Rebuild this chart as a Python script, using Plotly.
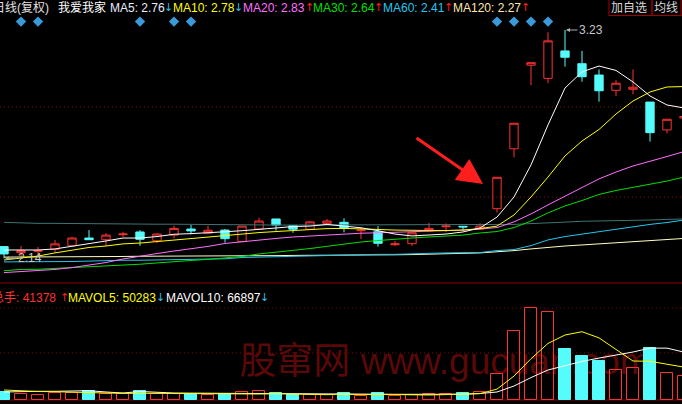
import plotly.graph_objects as go

# ---------------- data ----------------
idx = list(range(41))
open_ = [2.196, 2.167, 2.174, 2.183, 2.200, 2.237, 2.229, 2.253, 2.266, 2.224, 2.251, 2.280, 2.260, 2.275, 2.220,
         2.280, 2.328, 2.296, 2.279, 2.307, 2.312, 2.272, 2.267, 2.205, 2.210, 2.271, 2.291, 2.293, 2.280, 2.377,
         2.663, 3.062, 2.999, 3.130, 3.069, 3.015, 2.942, 2.947, 2.886, 2.753, 2.810]
high = [2.199, 2.199, 2.194, 2.228, 2.243, 2.275, 2.260, 2.267, 2.275, 2.260, 2.296, 2.299, 2.296, 2.280, 2.294,
        2.334, 2.328, 2.299, 2.318, 2.328, 2.331, 2.288, 2.294, 2.223, 2.262, 2.309, 2.307, 2.294, 2.307, 2.527,
        2.785, 3.074, 3.219, 3.230, 3.130, 3.042, 2.991, 3.042, 2.886, 2.804, 2.834]
low = [2.140, 2.146, 2.156, 2.167, 2.199, 2.228, 2.199, 2.242, 2.200, 2.212, 2.236, 2.255, 2.256, 2.215, 2.218,
       2.278, 2.272, 2.262, 2.278, 2.303, 2.264, 2.232, 2.196, 2.199, 2.200, 2.269, 2.266, 2.271, 2.279, 2.358,
       2.622, 2.967, 2.976, 3.055, 2.983, 2.888, 2.915, 2.923, 2.697, 2.737, 2.800]
close = [2.161, 2.177, 2.177, 2.209, 2.237, 2.229, 2.251, 2.256, 2.231, 2.256, 2.283, 2.271, 2.274, 2.234, 2.294,
         2.318, 2.299, 2.279, 2.314, 2.318, 2.283, 2.275, 2.212, 2.209, 2.262, 2.283, 2.294, 2.290, 2.294, 2.527,
         2.785, 3.074, 3.178, 3.100, 3.007, 2.940, 2.976, 2.957, 2.740, 2.804, 2.817]

ma5 = [2.180, 2.180, 2.180, 2.185, 2.197, 2.211, 2.223, 2.237, 2.237, 2.244, 2.255, 2.258, 2.261, 2.267, 2.272,
       2.280, 2.285, 2.292, 2.294, 2.302, 2.294, 2.286, 2.272, 2.256, 2.247, 2.251, 2.256, 2.266, 2.285, 2.337,
       2.433, 2.586, 2.777, 2.953, 3.030, 3.058, 3.037, 2.982, 2.915, 2.872, 2.858]
ma10 = [2.132, 2.142, 2.151, 2.166, 2.180, 2.192, 2.199, 2.209, 2.213, 2.220, 2.228, 2.235, 2.242, 2.251, 2.256,
        2.263, 2.268, 2.273, 2.278, 2.282, 2.283, 2.282, 2.278, 2.275, 2.273, 2.273, 2.273, 2.275, 2.282, 2.294,
        2.347, 2.433, 2.528, 2.629, 2.700, 2.755, 2.829, 2.891, 2.934, 2.958, 2.960]
ma20 = [2.072, 2.076, 2.081, 2.087, 2.096, 2.108, 2.120, 2.137, 2.151, 2.163, 2.175, 2.185, 2.197, 2.211, 2.220,
        2.226, 2.235, 2.242, 2.247, 2.251, 2.256, 2.260, 2.262, 2.264, 2.267, 2.269, 2.271, 2.275, 2.280, 2.287,
        2.314, 2.352, 2.395, 2.438, 2.478, 2.519, 2.552, 2.581, 2.602, 2.626, 2.650]
ma30 = [2.081, 2.087, 2.088, 2.092, 2.095, 2.099, 2.102, 2.107, 2.112, 2.118, 2.125, 2.130, 2.135, 2.142, 2.149,
        2.161, 2.168, 2.178, 2.187, 2.197, 2.209, 2.218, 2.225, 2.232, 2.237, 2.242, 2.247, 2.251, 2.261, 2.268,
        2.287, 2.318, 2.357, 2.390, 2.416, 2.445, 2.464, 2.478, 2.495, 2.509, 2.528]
ma60 = [2.123, 2.123, 2.123, 2.123, 2.125, 2.127, 2.130, 2.131, 2.131, 2.132, 2.135, 2.135, 2.137, 2.138, 2.144,
        2.146, 2.149, 2.151, 2.151, 2.154, 2.156, 2.158, 2.159, 2.159, 2.163, 2.164, 2.166, 2.167, 2.168, 2.177,
        2.182, 2.201, 2.228, 2.244, 2.256, 2.268, 2.280, 2.292, 2.302, 2.311, 2.323]
ma120 = [2.146, 2.146, 2.147, 2.147, 2.148, 2.148, 2.149, 2.149, 2.150, 2.150, 2.151, 2.151, 2.151, 2.152, 2.152,
         2.153, 2.153, 2.154, 2.154, 2.155, 2.155, 2.156, 2.156, 2.157, 2.158, 2.159, 2.161, 2.164, 2.166, 2.170,
         2.177, 2.185, 2.193, 2.199, 2.204, 2.209, 2.215, 2.220, 2.224, 2.230, 2.235]
ma250 = [2.312, 2.308, 2.307, 2.307, 2.306, 2.304, 2.304, 2.304, 2.303, 2.303, 2.303, 2.302, 2.300, 2.299, 2.299,
         2.299, 2.299, 2.299, 2.299, 2.299, 2.299, 2.299, 2.299, 2.299, 2.299, 2.299, 2.299, 2.299, 2.300, 2.300,
         2.302, 2.306, 2.308, 2.313, 2.317, 2.318, 2.319, 2.321, 2.323, 2.326, 2.328]

vol = [11620, 7950, 7010, 9790, 9370, 12630, 8840, 7960, 12580, 7990, 8420, 8810, 7030, 7970, 11190,
       12620, 9360, 7410, 7440, 7390, 9820, 5610, 9370, 5190, 7020, 7960, 8830, 9390, 10770, 35980,
       96180, 128380, 122780, 71400, 61600, 54600, 41580, 44380, 72380, 37380, 33180]
mavol5 = [14000, 12600, 11900, 11620, 10780, 10500, 9800, 9380, 9800, 9380, 9100, 8820, 8400, 7980, 7980,
          8400, 8820, 8400, 7980, 7420, 8300, 7400, 7900, 7500, 7400, 7000, 7600, 8000, 8900, 15200,
          33500, 57800, 79200, 91000, 95600, 87000, 70200, 54600, 54200, 50200, 46000]
mavol10 = [11200, 11900, 12180, 12180, 12600, 13020, 11200, 9800, 11900, 10500, 9800, 9600, 9400, 9300, 9200,
           9100, 9000, 8900, 8820, 8820, 8400, 8100, 7980, 7980, 7980, 7980, 8000, 8100, 9100, 11200,
           19600, 31400, 42000, 48500, 54000, 58700, 63000, 67200, 72600, 72600, 67000]

signal_idx = [1, 2, 8, 10, 11, 29, 30, 31, 32]
signal_level = 3.270
hi_idx, hi_val = 33, 3.23
lo_idx, lo_val = 0, 2.14

# ---------------- styling ----------------
W, H = 682, 404
RED = '#FF3232'
CYAN = '#54FCFC'
GRID = '#8C0000'
CLEAR = 'rgba(0,0,0,0)'
FONT = 'Liberation Sans, Arial, Noto Sans CJK SC, sans-serif'
ARROWFONT = 'DejaVu Sans, Noto Sans CJK SC, sans-serif'


def px(x):
    return x / W


def py(y):
    return 1 - y / H


fig = go.Figure()

fig.add_trace(go.Candlestick(
    x=idx, open=open_, high=high, low=low, close=close,
    increasing=dict(line=dict(color=RED, width=1), fillcolor=CLEAR),
    decreasing=dict(line=dict(color=CYAN, width=1), fillcolor=CYAN),
    whiskerwidth=0, hoverinfo='skip', showlegend=False, xaxis='x', yaxis='y'))

for vals, col in [(ma250, '#3E7474'), (ma120, '#FFFFC0'), (ma60, '#22C8F0'), (ma30, '#00E000'),
                  (ma20, '#FF70FF'), (ma10, '#FFFF00'), (ma5, '#FFFFFF')]:
    fig.add_trace(go.Scatter(x=idx, y=vals, mode='lines', line=dict(color=col, width=1),
                             hoverinfo='skip', showlegend=False, xaxis='x', yaxis='y'))

fig.add_trace(go.Scatter(x=signal_idx, y=[signal_level] * len(signal_idx), mode='markers',
                         marker=dict(symbol='diamond', size=8, color='#3A9AD9', line=dict(width=0)),
                         hoverinfo='skip', showlegend=False, xaxis='x', yaxis='y'))

up = [c > o for o, c in zip(open_, close)]
fig.add_trace(go.Bar(x=idx, y=vol, width=0.72,
                     marker=dict(color=[CLEAR if u else CYAN for u in up],
                                 line=dict(color=[RED if u else CYAN for u in up], width=1)),
                     hoverinfo='skip', showlegend=False, xaxis='x', yaxis='y2'))
fig.add_trace(go.Scatter(x=idx, y=mavol10, mode='lines', line=dict(color='#FFFFFF', width=1),
                         hoverinfo='skip', showlegend=False, xaxis='x', yaxis='y2'))
fig.add_trace(go.Scatter(x=idx, y=mavol5, mode='lines', line=dict(color='#FFFF00', width=1),
                         hoverinfo='skip', showlegend=False, xaxis='x', yaxis='y2'))

shapes = []
for yy in [107, 197, 308, 353]:
    shapes.append(dict(type='line', xref='paper', yref='paper', x0=0, x1=1, y0=py(yy), y1=py(yy),
                       line=dict(color=GRID, width=1, dash='1px,3px'), layer='below'))
for yy in [283, 400]:
    shapes.append(dict(type='line', xref='paper', yref='paper', x0=0, x1=1, y0=py(yy), y1=py(yy),
                       line=dict(color='#880000', width=1), layer='below'))
# buttons
for x0, x1 in [(609, 652), (652, 681)]:
    shapes.append(dict(type='rect', xref='paper', yref='paper', x0=px(x0), x1=px(x1), y0=py(15.5), y1=py(-1),
                       line=dict(color='#A00000', width=1), fillcolor=CLEAR))
# watermark
shapes.append(dict(type='rect', xref='paper', yref='paper', x0=px(230), x1=px(660), y0=py(385), y1=py(330),
                   line=dict(width=0), fillcolor=CLEAR, layer='below',
                   label=dict(text='股窜网 www.gucuan.com', textposition='middle center',
                              font=dict(size=37, color='#5A0808', family=FONT))))

ann = []


def text(x, y, s, color, size=12, family=FONT):
    ann.append(dict(xref='paper', yref='paper', x=px(x), y=py(y), text=s, showarrow=False,
                    xanchor='left', yanchor='middle', font=dict(color=color, size=size, family=family),
                    borderpad=0))


def arrow(x, y, s, color):
    text(x, y, s, color, size=11, family=ARROWFONT)


TY = 7.5
text(-8, TY, '日线(复权)', '#E0E0E0')
text(57, TY, '我爱我家', '#FFFFFF')
text(109, TY, 'MA5: 2.76', '#E8ECFF')
arrow(163, TY, '↓', '#30C0E0')
text(172, TY, 'MA10: 2.78', '#FFFF00')
arrow(233, TY, '↓', '#30C0E0')
text(242, TY, 'MA20: 2.83', '#FF70FF')
arrow(304, TY, '↑', '#FF2020')
text(312, TY, 'MA30: 2.64', '#00E000')
arrow(373, TY, '↑', '#FF2020')
text(382, TY, 'MA60: 2.41', '#22C8F0')
arrow(443, TY, '↑', '#FF2020')
text(452, TY, 'MA120: 2.27', '#FFE8B0')
arrow(520, TY, '↑', '#FF2020')
text(610, TY, '加自选', '#D8D8D8')
text(653, TY, '均线', '#D8D8D8')

VY = 297.5
text(-9, VY, '总手: 41378', '#FF3030')
arrow(59, VY, '↑', '#FF2020')
text(67, VY, 'MAVOL5: 50283', '#FFFF00')
arrow(155, VY, '↓', '#30C0E0')
text(165, VY, 'MAVOL10: 66897', '#FFFFFF')
arrow(259, VY, '↓', '#30C0E0')

ann.append(dict(x=hi_idx, y=hi_val, xref='x', yref='y', text=f'{hi_val:.2f}', showarrow=True,
                ax=26, ay=0, arrowhead=2, arrowsize=0.8, arrowwidth=1, arrowcolor='#B0B0B0', standoff=1,
                font=dict(color='#C8C8C8', size=12, family=FONT)))
ann.append(dict(x=lo_idx, y=lo_val, xref='x', yref='y', text=f'{lo_val:.2f}', showarrow=True,
                ax=26, ay=0, arrowhead=2, arrowsize=0.8, arrowwidth=1, arrowcolor='#B0B0B0', standoff=1,
                font=dict(color='#C8C8C8', size=12, family=FONT)))
# big red pointer arrow
ann.append(dict(x=28.18, y=2.495, xref='x', yref='y', text='', showarrow=True,
                ax=-68, ay=-47, arrowhead=2, arrowsize=1.7, arrowwidth=3, arrowcolor='#FF1E1E'))

fig.update_layout(
    width=W, height=H, margin=dict(l=0, r=0, t=0, b=0),
    paper_bgcolor='#000000', plot_bgcolor=CLEAR,
    showlegend=False, shapes=shapes, annotations=ann, bargap=0,
    xaxis=dict(range=[-4 / 17, 678 / 17], visible=False, rangeslider=dict(visible=False),
               fixedrange=True, showgrid=False, zeroline=False),
    yaxis=dict(domain=[1 - 283 / H, 1 - 12 / H], range=[2.02236, 3.31592], visible=False,
               fixedrange=True, showgrid=False, zeroline=False),
    yaxis2=dict(domain=[1 - 400 / H, 1 - 290 / H], range=[0, 154000], visible=False, anchor='x',
                fixedrange=True, showgrid=False, zeroline=False),
)

fig.write_html('out.html', config={'displayModeBar': False},
               post_script="document.body.style.margin='0';document.body.style.overflow='hidden';")
